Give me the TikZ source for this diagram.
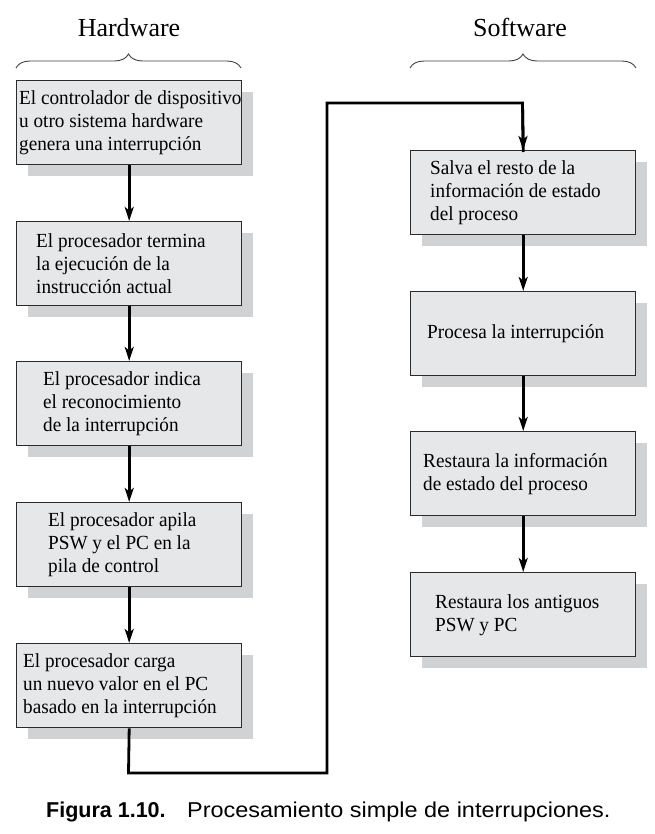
\documentclass[tikz,border=0pt]{standalone}
\usepackage{fontspec}
\setmainfont{Liberation Serif}[FakeStretch=0.96]
\newfontfamily\headfont{Liberation Serif}
\newfontfamily\capfont[FakeStretch=1.09]{Liberation Sans}
\newfontfamily\capbold{Liberation Sans}
\usetikzlibrary{arrows.meta,shadows,decorations.pathreplacing}
\definecolor{boxfill}{HTML}{E6E7E8}
\definecolor{shd}{HTML}{D1D2D4}
\definecolor{edge}{HTML}{2B2B2B}
\tikzset{
  flowbox/.style={draw=edge, line width=1.4pt, fill=boxfill, minimum width=225pt, minimum height=84pt, inner sep=0pt, anchor=north west,
    drop shadow={shadow xshift=11pt, shadow yshift=-11pt, fill=shd, opacity=1}},
  boxtext/.style={anchor=west, align=left, inner sep=0pt, font=\fontsize{20}{23}\selectfont},
  flow/.style={line width=2.8pt, -{Stealth[length=14pt,width=9pt,inset=3.5pt]}},
  loopline/.style={line width=2.8pt},
  head/.style={font=\headfont\fontsize{26}{30}\selectfont, anchor=base},
  brc/.style={decorate, decoration={brace, amplitude=14pt, aspect=0.5}, line width=0.9pt, draw=black!75}
}
\begin{document}
\begin{tikzpicture}[x=1pt,y=-1pt]
\useasboundingbox (0,0) rectangle (654,834);
% headings and braces
\node[head] (hw) at (129,37) {Hardware};
\node[head] (sw) at (520,37) {Software};
\coordinate (hbl) at (16,68);
\coordinate (hbr) at (241,68);
\coordinate (sbl) at (410,68);
\coordinate (sbr) at (636,68);
\draw[brc] (hbl) -- (hbr);
\draw[brc] (sbl) -- (sbr);
% left boxes
\node[flowbox] (L1) at (16,80) {};
\node[flowbox] (L2) at (16,221) {};
\node[flowbox] (L3) at (16,361) {};
\node[flowbox] (L4) at (16,502) {};
\node[flowbox] (L5) at (16,643) {};
% right boxes
\node[flowbox] (R1) at (410,150) {};
\node[flowbox] (R2) at (410,291) {};
\node[flowbox] (R3) at (410,431) {};
\node[flowbox] (R4) at (410,572) {};
% texts
\node[boxtext] (t1) at (19,123) {El controlador de dispositivo\\u otro sistema hardware\\genera una interrupción};
\node[boxtext] (t2) at (36,264) {El procesador termina\\la ejecución de la\\instrucción actual};
\node[boxtext] (t3) at (43,404) {El procesador indica\\el reconocimiento\\de la interrupción};
\node[boxtext] (t4) at (48,545) {El procesador apila\\PSW y el PC en la\\pila de control};
\node[boxtext] (t5) at (23,686) {El procesador carga\\un nuevo valor en el PC\\basado en la interrupción};
\node[boxtext] (t6) at (430,193) {Salva el resto de la\\información de estado\\del proceso};
\node[boxtext] (t7) at (427,334) {Procesa la interrupción};
\node[boxtext] (t8) at (423,474) {Restaura la información\\de estado del proceso};
\node[boxtext] (t9) at (435,615) {Restaura los antiguos\\PSW y PC};
% connectors
\draw[flow] (L1.south) -- (L2.north);
\draw[flow] (L2.south) -- (L3.north);
\draw[flow] (L3.south) -- (L4.north);
\draw[flow] (L4.south) -- (L5.north);
\draw[flow] (R1.south) -- (R2.north);
\draw[flow] (R2.south) -- (R3.north);
\draw[flow] (R3.south) -- (R4.north);
\coordinate (c1) at (128.5,773);
\coordinate (c2) at (327,773);
\coordinate (c3) at (327,103);
\coordinate (c4) at (522.5,103);
\draw[loopline, line join=miter] (L5.south) -- (c1) -- (c2) -- (c3) -- (c4) -- ([yshift=-2pt]R1.north);
\draw[flow] (c4) -- (R1.north);
% caption
\node[anchor=base west, inner sep=0pt, font=\capbold\bfseries\fontsize{21.5}{24}\selectfont] (cap1) at (46,817) {Figura 1.10.};
\node[anchor=base west, inner sep=0pt, font=\capfont\fontsize{21.5}{24}\selectfont] (cap2) at (187,817) {Procesamiento simple de interrupciones.};
\end{tikzpicture}
\end{document}
